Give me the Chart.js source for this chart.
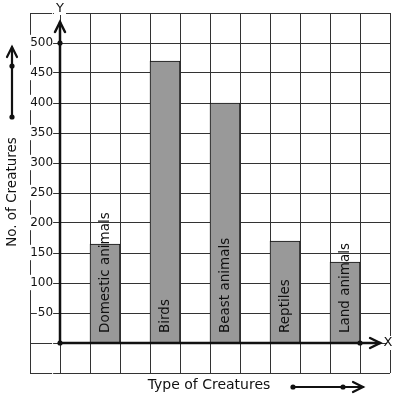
<!DOCTYPE html>
<html>
<head>
<meta charset="utf-8">
<title>Type of Creatures</title>
<script src="https://cdn.jsdelivr.net/npm/chart.js@4.4.1/dist/chart.umd.min.js"></script>
<style>
    html, body { margin: 0; padding: 0; background: #ffffff; }
    canvas { display: block; }
</style>
</head>
<body>
<canvas id="creatureChart" width="397" height="399"></canvas>
<script>

//Data

const categories = ["Domestic animals", "Birds", "Beast animals", "Reptiles", "Land animals"];
const creatureCounts = [165, 470, 400, 170, 135];
const barPositions = [1.5, 3.5, 5.5, 7.5, 9.5]; //x position of each bar on the grid
const yTickLabels = [50, 100, 150, 200, 250, 300, 350, 400, 450, 500];

const textFont = "DejaVu Sans";
const ink = "#111111";

//Build the points for the bar dataset

const barPoints = categories.map(function(name, i){
    return { x: barPositions[i], y: creatureCounts[i] };
});

//Helpers to draw the arrows and dots

function drawDot(ctx, x, y){
    ctx.beginPath();
    ctx.arc(x, y, 2.6, 0, Math.PI * 2);
    ctx.fill();
}

function drawArrowHead(ctx, x, y, dir){
    ctx.beginPath();
    if(dir === "up"){
        ctx.moveTo(x - 5, y + 10);
        ctx.lineTo(x, y);
        ctx.lineTo(x + 5, y + 10);
    }
    else{
        ctx.moveTo(x - 10, y - 5);
        ctx.lineTo(x, y);
        ctx.lineTo(x - 10, y + 5);
    }
    ctx.stroke();
}

//Plugin for the axes, arrows, titles and the labels inside the bars

const decorations = {
    id: "decorations",
    afterDatasetsDraw: function(chart){
        const ctx = chart.ctx;
        const xs = chart.scales.x;
        const ys = chart.scales.y;
        const area = chart.chartArea;
        const ox = xs.getPixelForValue(0);
        const oy = ys.getPixelForValue(0);

        ctx.save();
        ctx.strokeStyle = ink;
        ctx.fillStyle = ink;
        ctx.lineWidth = 2.5;
        ctx.lineCap = "round";

        //y axis
        const yTip = ys.getPixelForValue(535);
        ctx.beginPath();
        ctx.moveTo(ox, oy);
        ctx.lineTo(ox, yTip);
        ctx.stroke();
        drawArrowHead(ctx, ox, yTip, "up");
        drawDot(ctx, ox, ys.getPixelForValue(500));

        //x axis
        const xTip = xs.getPixelForValue(10.67);
        ctx.beginPath();
        ctx.moveTo(ox, oy);
        ctx.lineTo(xTip, oy);
        ctx.stroke();
        drawArrowHead(ctx, xTip, oy, "right");
        drawDot(ctx, xs.getPixelForValue(10), oy);
        drawDot(ctx, ox, oy);

        //axis letters
        ctx.font = "13px '" + textFont + "'";
        ctx.textAlign = "center";
        ctx.textBaseline = "middle";
        ctx.fillStyle = "#ffffff";
        ctx.fillRect(ox - 6, area.top - 2, 12, 4);
        ctx.fillRect(area.right - 3, oy - 7, 6, 14);
        ctx.fillStyle = ink;
        ctx.fillText("Y", ox, area.top - 4);
        ctx.fillText("X", area.right - 2, oy);

        //labels inside the bars
        ctx.font = "13.5px '" + textFont + "'";
        ctx.textAlign = "left";
        barPoints.forEach(function(p, i){
            ctx.save();
            ctx.translate(xs.getPixelForValue(p.x), oy - 10);
            ctx.rotate(-Math.PI / 2);
            ctx.fillText(categories[i], 0, 0);
            ctx.restore();
        });

        //left title with its arrow
        ctx.lineWidth = 2.2;
        ctx.save();
        ctx.translate(12, 192);
        ctx.rotate(-Math.PI / 2);
        ctx.textAlign = "center";
        ctx.fillText("No. of Creatures", 0, 0);
        ctx.restore();
        ctx.beginPath();
        ctx.moveTo(12, 117);
        ctx.lineTo(12, 47);
        ctx.stroke();
        drawArrowHead(ctx, 12, 47, "up");
        drawDot(ctx, 12, 117);
        drawDot(ctx, 12, 66);

        //bottom title with its arrow
        ctx.font = "14px '" + textFont + "'";
        ctx.textAlign = "center";
        ctx.fillText("Type of Creatures", 209, 385);
        ctx.beginPath();
        ctx.moveTo(293, 387);
        ctx.lineTo(363, 387);
        ctx.stroke();
        drawArrowHead(ctx, 363, 387, "right");
        drawDot(ctx, 293, 387);
        drawDot(ctx, 343, 387);

        ctx.restore();
    }
};

//Create the chart

const chartCanvas = document.querySelector("#creatureChart");

new Chart(chartCanvas, {

    type: "bar",

    data: {
        datasets: [{
            data: barPoints,
            backgroundColor: "#999999",
            borderColor: "#111111",
            borderWidth: 1,
            borderSkipped: "bottom",
            barThickness: 30
        }]
    },

    options: {
        responsive: false,
        animation: false,
        layout: {
            padding: { left: 30, right: 7, top: 13, bottom: 26 }
        },
        plugins: {
            legend: { display: false },
            tooltip: { enabled: false }
        },
        scales: {
            x: {
                type: "linear",
                min: -1,
                max: 11,
                offset: false,
                ticks: { display: false, stepSize: 1 },
                grid: { color: "#333333", lineWidth: 1, drawTicks: false, offset: false },
                border: { display: false }
            },
            y: {
                type: "linear",
                position: { x: -0.23 }, //labels end a little left of the y axis
                min: -50,
                max: 550,
                afterFit: function(scale){
                    scale.width = 0; //keep the labels inside the grid
                },
                ticks: {
                    stepSize: 50,
                    color: ink,
                    font: { family: textFont, size: 12 },
                    showLabelBackdrop: true,
                    backdropColor: "#ffffff",
                    backdropPadding: { top: 1, bottom: 0, left: 1, right: 0 },
                    callback: function(value){
                        return yTickLabels.includes(value) ? String(value) : "";
                    }
                },
                grid: { color: "#333333", lineWidth: 1, drawTicks: false },
                border: { display: false }
            }
        }
    },

    plugins: [decorations]

});

</script>
</body>
</html>
